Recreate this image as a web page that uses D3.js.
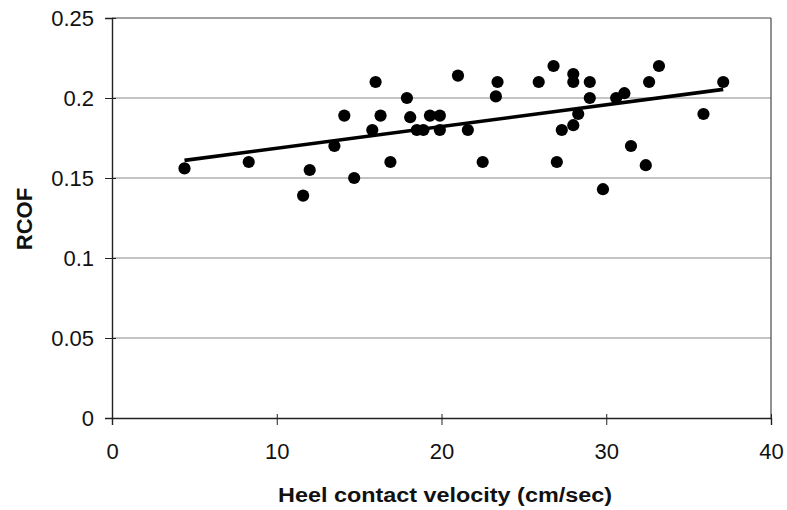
<!DOCTYPE html>
<html><head><meta charset="utf-8">
<script src="https://cdn.jsdelivr.net/npm/d3@7"></script>
<style>body{margin:0;background:#fff}svg{display:block}</style>
</head><body><svg id="c" width="787" height="510"></svg>
<script>
const velocity = [4.4,8.3,11.6,12.0,13.5,14.1,14.7,15.8,16.0,16.3,16.9,17.9,18.1,18.5,18.9,19.3,19.9,19.9,21.0,21.6,22.5,23.3,23.4,25.9,26.8,27.0,27.3,28.0,28.0,28.0,28.3,29.0,29.0,29.8,30.6,31.1,31.5,32.4,32.6,33.2,35.9,37.1];
const rcof = [0.156,0.160,0.139,0.155,0.170,0.189,0.150,0.180,0.210,0.189,0.160,0.200,0.188,0.180,0.180,0.189,0.189,0.180,0.214,0.180,0.160,0.201,0.210,0.210,0.220,0.160,0.180,0.215,0.210,0.183,0.190,0.210,0.200,0.143,0.200,0.203,0.170,0.158,0.210,0.220,0.190,0.210];
const trendX = [4.4, 37.1];
const trendY = [0.161, 0.2054];
const xTicks = [0,10,20,30,40];
const yTicks = [0,0.05,0.1,0.15,0.2,0.25];

const svg = d3.select("#c");
const L=112, R=771, T=18, B=418;
const x = d3.scaleLinear().domain([0,40]).range([L,R]);
const y = d3.scaleLinear().domain([0,0.25]).range([B,T]);
const font = "'Liberation Sans', Arial, sans-serif";

// gridlines
svg.append("g").selectAll("line").data(yTicks.filter(d=>d>0)).join("line")
  .attr("x1",L).attr("x2",R).attr("y1",d=>y(d)).attr("y2",d=>y(d))
  .attr("stroke", d=>d===0.25?"#444":"#8a8a8a").attr("stroke-width",1.2);
// right border
svg.append("line").attr("x1",R).attr("x2",R).attr("y1",T).attr("y2",B).attr("stroke","#555").attr("stroke-width",1.3);

// axes
const yAxis = svg.append("g").attr("transform",`translate(${L},0)`)
  .call(d3.axisLeft(y).tickValues(yTicks).tickSize(7).tickPadding(11).tickFormat(d=>d3.format("")(d)));
const xAxis = svg.append("g").attr("transform",`translate(0,${B})`)
  .call(d3.axisBottom(x).tickValues(xTicks).tickSize(7).tickPadding(18));
[yAxis,xAxis].forEach(a=>{
  a.select(".domain").attr("stroke","#222").attr("stroke-width",1.4);
  a.selectAll(".tick line").attr("stroke","#222").attr("stroke-width",1);
  a.selectAll(".tick text").attr("fill","#111").style("font-family",font).style("font-size","22px");
});
yAxis.selectAll(".tick line").attr("x1",-7).attr("x2",4);
xAxis.selectAll(".tick line").attr("y1",-4).attr("y2",7);

// points
svg.append("g").selectAll("circle").data(velocity).join("circle")
  .attr("cx",(d)=>x(d)).attr("cy",(d,i)=>y(rcof[i])).attr("r",6.1).attr("fill","#000");

// trend line
svg.append("line").attr("x1",x(trendX[0])).attr("y1",y(trendY[0]))
  .attr("x2",x(trendX[1])).attr("y2",y(trendY[1]))
  .attr("stroke","#000").attr("stroke-width",3.6).attr("stroke-linecap","butt");

// titles
svg.append("text").attr("x",445).attr("y",502).attr("text-anchor","middle")
  .attr("textLength",334).attr("lengthAdjust","spacingAndGlyphs")
  .style("font-family",font).style("font-size","20px").style("font-weight","bold").attr("fill","#111")
  .text("Heel contact velocity (cm/sec)");
svg.append("text").attr("transform","translate(32,219) rotate(-90)").attr("text-anchor","middle")
  .style("font-family",font).style("font-size","22px").style("font-weight","bold").attr("fill","#111")
  .text("RCOF");
</script></body></html>
